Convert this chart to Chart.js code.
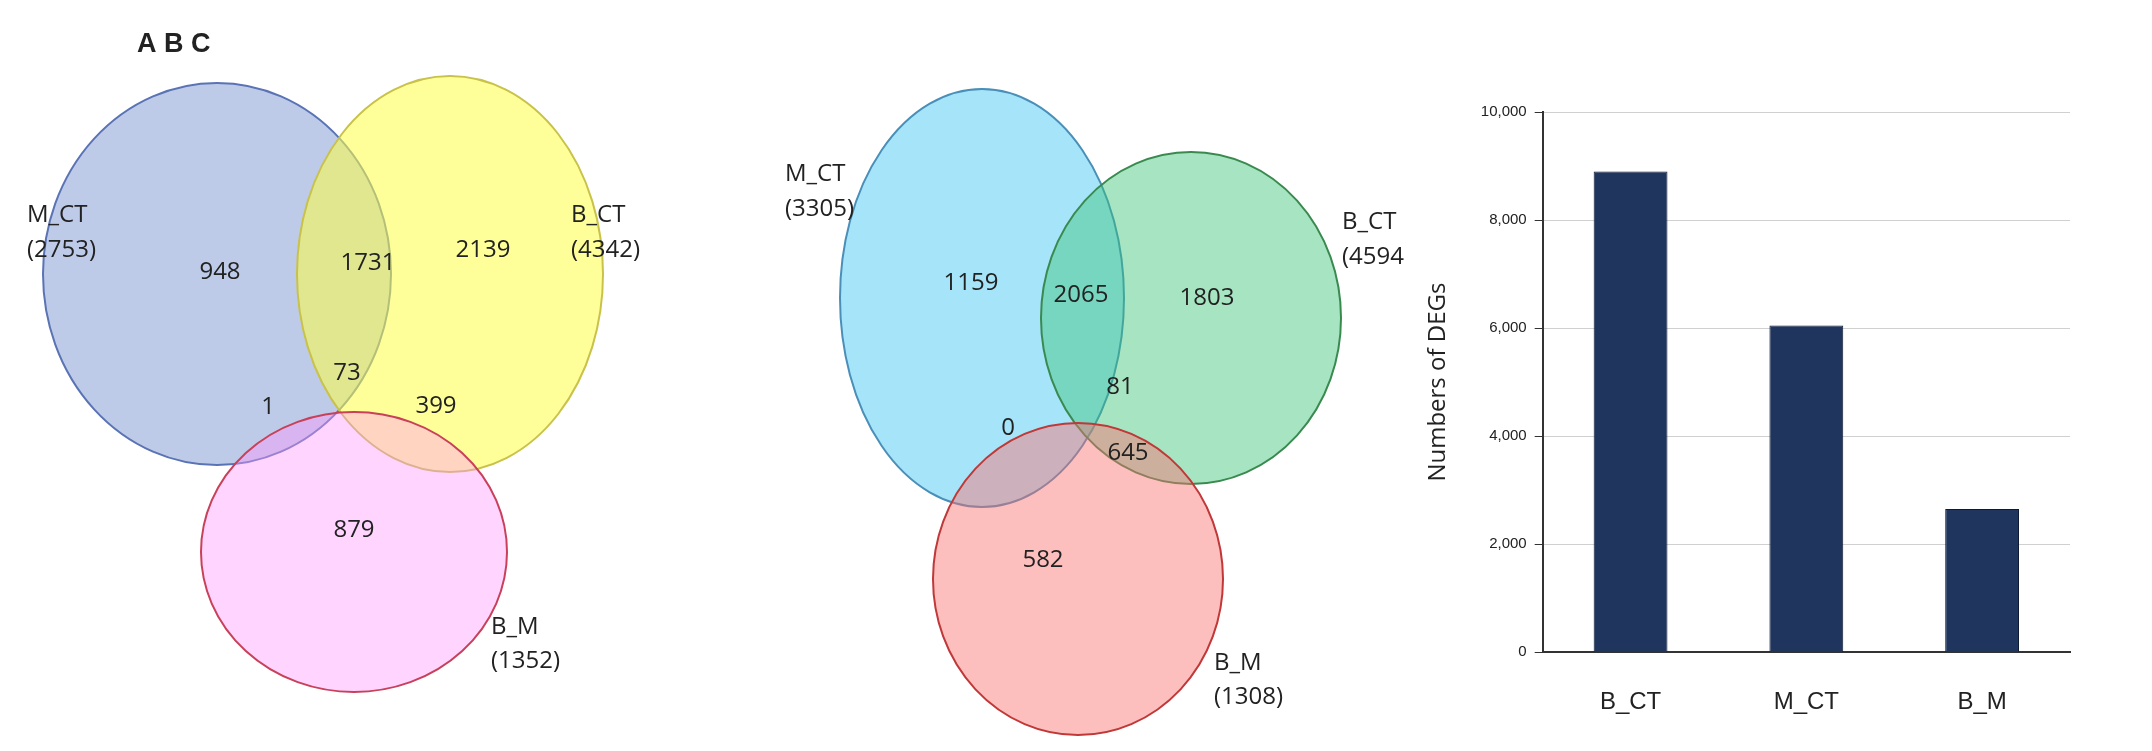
<!DOCTYPE html><html><head><meta charset="utf-8">
<script src="https://cdn.jsdelivr.net/npm/chart.js@4"></script>
<style>body{margin:0;background:#fff;width:2152px;height:751px;overflow:hidden;position:relative}</style></head><body>
<div id="vw" style="position:absolute;left:0;top:0;width:1420px;height:751px"><canvas id="v"></canvas></div>
<div style="position:absolute;left:1420px;top:95px;width:660px;height:650px"><canvas id="b"></canvas></div>
<script>
// Venn sets: [cx, cy, rx, ry] in page-pixel data units
const vennSets1 = [[217,274,174,191],[450,274,153,198],[354,552,153,140]];
const vennFill1 = ['rgba(110,140,205,0.45)','rgba(255,255,70,0.55)','rgba(255,150,255,0.4)'];
const vennStroke1 = ['#5a73b5','#c9c24a','#c8405a'];
const vennSets2 = [[982,298,142,209],[1191,318,150,166],[1078,579,145,156]];
const vennFill2 = ['rgba(40,190,240,0.42)','rgba(60,195,120,0.45)','rgba(250,110,110,0.45)'];
const vennStroke2 = ['#4a8fb8','#3a8a50','#c03838'];
const vennCounts = [['948',220,272],['1731',368,263],['2139',483,250],['73',347,373],['1',268,407],['399',436,406],['879',354,530],
 ['1159',971,283],['2065',1081,295],['1803',1207,298],['81',1120,387],['0',1008,428],['645',1128,453],['582',1043,560]];
const setLabels = [['M_CT',27,215],['(2753)',27,250],['B_CT',571,215],['(4342)',571,250],['B_M',491,627],['(1352)',491,661],
 ['M_CT',785,174],['(3305)',785,209],['B_CT',1342,222],['(4594',1342,257],['B_M',1214,663],['(1308)',1214,697]];
const categories = ['B_CT','M_CT','B_M'];
const degCounts = [8900,6050,2650];

const vennPlugin={id:'venn',afterDatasetsDraw(c){const x=c.scales.x,y=c.scales.y,ctx=c.ctx;ctx.save();
 const drawSets=(s,f,st)=>s.forEach((e,i)=>{const cx=x.getPixelForValue(e[0]),cy=y.getPixelForValue(e[1]);
  const rx=Math.abs(x.getPixelForValue(e[0]+e[2])-cx),ry=Math.abs(y.getPixelForValue(e[1]+e[3])-cy);
  ctx.beginPath();ctx.ellipse(cx,cy,rx,ry,0,0,Math.PI*2);ctx.fillStyle=f[i];ctx.fill();ctx.strokeStyle=st[i];ctx.lineWidth=2;ctx.stroke();});
 drawSets(vennSets1,vennFill1,vennStroke1);drawSets(vennSets2,vennFill2,vennStroke2);
 ctx.fillStyle='#222';ctx.textBaseline='middle';ctx.font='24px "Liberation Sans Narrow","Open Sans",sans-serif';ctx.textAlign='center';
 vennCounts.forEach(t=>ctx.fillText(t[0],x.getPixelForValue(t[1]),y.getPixelForValue(t[2])));
 ctx.textAlign='left';setLabels.forEach(t=>ctx.fillText(t[0],x.getPixelForValue(t[1]),y.getPixelForValue(t[2])));
 ctx.font='bold 27px "Liberation Sans",sans-serif';ctx.fillText('A B C',x.getPixelForValue(137),y.getPixelForValue(45));
 ctx.restore();}};
new Chart(document.getElementById('v'),{type:'scatter',data:{datasets:[{data:[],pointRadius:0}]},
 options:{responsive:true,maintainAspectRatio:false,animation:false,layout:{padding:0},plugins:{legend:{display:false},tooltip:{enabled:false}},
 scales:{x:{type:'linear',min:0,max:1420,display:false},y:{type:'linear',min:0,max:751,reverse:true,display:false}}},plugins:[vennPlugin]});

new Chart(document.getElementById('b'),{type:'bar',data:{labels:categories,datasets:[{data:degCounts,backgroundColor:'#1f355e',borderColor:'#0e1a33',borderWidth:1,barPercentage:0.42,categoryPercentage:1}]},
 options:{responsive:true,maintainAspectRatio:false,animation:false,layout:{padding:{top:10,right:10}},plugins:{legend:{display:false},tooltip:{enabled:false}},
 scales:{y:{min:0,max:10000,ticks:{stepSize:2000,color:'#222',font:{size:15,family:'"Liberation Sans Narrow",sans-serif'},padding:8},
  grid:{color:'#d0d0d0',tickLength:8,tickColor:'#333',drawTicks:true},border:{color:'#333',width:2},
  title:{display:true,text:'Numbers of DEGs',color:'#222',font:{size:24,family:'"Open Sans",sans-serif'},padding:{bottom:20}}},
  x:{grid:{display:false},border:{color:'#333',width:2},ticks:{color:'#222',padding:28,font:{size:24,family:'"Liberation Sans Narrow",sans-serif'}}}}}});
</script></body></html>
